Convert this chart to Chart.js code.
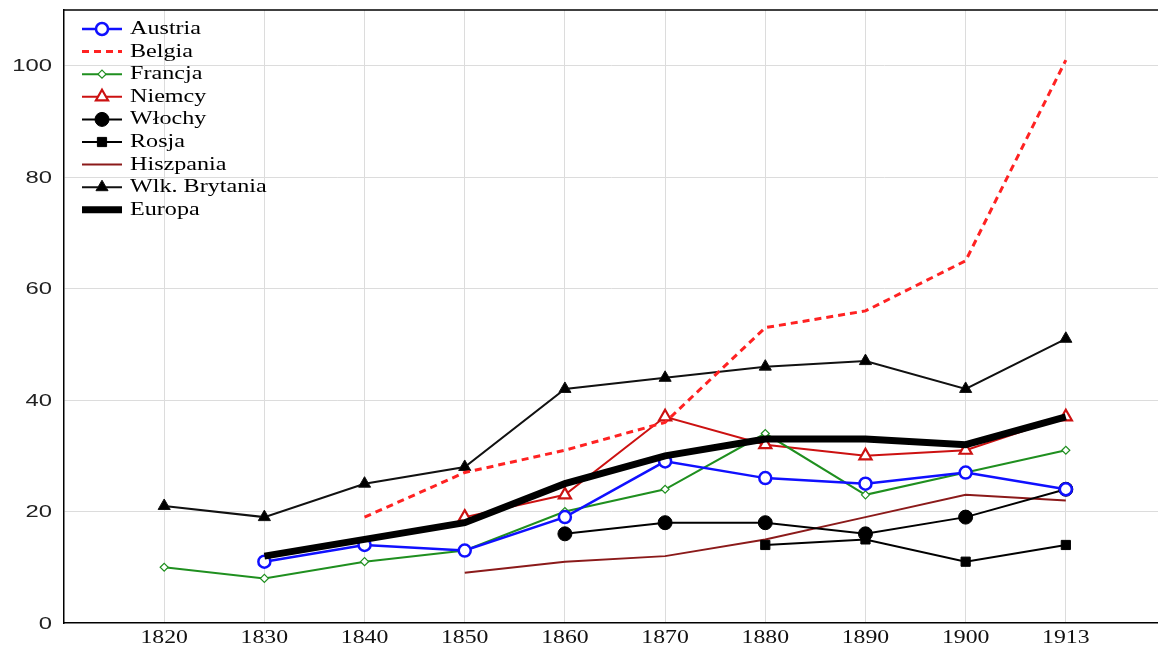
<!DOCTYPE html>
<html>
<head>
<meta charset="utf-8">
<script src="https://cdn.jsdelivr.net/npm/chart.js@4.4.1/dist/chart.umd.min.js"></script>
<style>
  html, body { margin: 0; padding: 0; background: #fff; overflow: hidden; }
  #wrap { width: 1158px; height: 652px; }
</style>
</head>
<body>
<div id="wrap"><canvas id="chart"></canvas></div>
<script>
// lata (kategorie osi X)
const years = ['1820', '1830', '1840', '1850', '1860', '1870', '1880', '1890', '1900', '1913'];
const yTicks = [0, 20, 40, 60, 80, 100];

// wartosci serii (null = brak danych)
const austria   = [null, 11, 14, 13, 19, 29, 26, 25, 27, 24];
const belgia    = [null, null, 19, 27, 31, 36, 53, 56, 65, 101];
const francja   = [10, 8, 11, 13, 20, 24, 34, 23, 27, 31];
const niemcy    = [null, null, null, 19, 23, 37, 32, 30, 31, 37];
const wlochy    = [null, null, null, null, 16, 18, 18, 16, 19, 24];
const rosja     = [null, null, null, null, null, null, 14, 15, 11, 14];
const hiszpania = [null, null, null, 9, 11, 12, 15, 19, 23, 22];
const brytania  = [21, 19, 25, 28, 42, 44, 46, 47, 42, 51];
const europa    = [null, 12, 15, 18, 25, 30, 33, 33, 32, 37];

const toPoints = arr => arr.map((v, i) => ({ x: i, y: v }));

const series = [
  { label: 'Austria', data: austria, color: '#1010ff', width: 2.5, style: 'circle', radius: 6, fill: '#fff', bw: 2.5 },
  { label: 'Belgia', data: belgia, color: '#ff2222', width: 3, dash: [7, 5], style: false },
  { label: 'Francja', data: francja, color: '#1f8f1f', width: 2, style: 'rectRot', radius: 4, fill: '#fff', bw: 1.2 },
  { label: 'Niemcy', data: niemcy, color: '#cc1111', width: 2, style: 'triangle', radius: 7, fill: '#fff', bw: 2.2 },
  { label: 'Włochy', data: wlochy, color: '#000', width: 2, style: 'circle', radius: 7, fill: '#000', bw: 1 },
  { label: 'Rosja', data: rosja, color: '#000', width: 2, style: 'rect', radius: 6.5, fill: '#000', bw: 1 },
  { label: 'Hiszpania', data: hiszpania, color: '#8b1a1a', width: 2, style: false },
  { label: 'Wlk. Brytania', data: brytania, color: '#111', width: 2, style: 'triangle', radius: 7, fill: '#000', bw: 1 },
  { label: 'Europa', data: europa, color: '#000', width: 7, style: false, order: 0 }
];

const datasets = series.map(s => ({
  label: s.label,
  data: toPoints(s.data),
  borderColor: s.color,
  borderWidth: s.width,
  borderDash: s.dash || [],
  backgroundColor: s.fill || s.color,
  pointStyle: s.style,
  pointRadius: s.style ? s.radius : 0,
  pointBorderWidth: s.bw || 1,
  pointBorderColor: s.color,
  pointBackgroundColor: s.fill || s.color,
  tension: 0,
  order: s.order === undefined ? 1 : s.order
}));

const SERIF = '"Liberation Serif", "Times New Roman", serif';
const SANS = '"Liberation Sans", Arial, sans-serif';

// tekst rozciagniety w poziomie (oryginal jest poszerzony)
function wideText(ctx, text, x, y, sx, align) {
  ctx.save();
  ctx.scale(sx, 1);
  ctx.textAlign = align;
  ctx.fillText(text, x / sx, y);
  ctx.restore();
}

// etykiety osi, gorna ramka i legenda w obszarze wykresu
const decorPlugin = {
  id: 'decor',
  afterDraw(chart) {
    const ctx = chart.ctx;
    const area = chart.chartArea;
    const xs = chart.scales.x, ys = chart.scales.y;
    ctx.save();
    ctx.strokeStyle = '#000';
    ctx.lineWidth = 1.5;
    ctx.beginPath();
    ctx.moveTo(area.left, area.top);
    ctx.lineTo(area.right, area.top);
    ctx.stroke();

    ctx.textBaseline = 'middle';
    ctx.fillStyle = '#222';
    ctx.font = '17px ' + SANS;
    yTicks.forEach(v => wideText(ctx, String(v), area.left - 12, ys.getPixelForValue(v) + 1, 1.4, 'right'));

    ctx.fillStyle = '#111';
    ctx.font = '19px ' + SERIF;
    years.forEach((y, i) => wideText(ctx, y, xs.getPixelForValue(i), area.bottom + 15, 1.25, 'center'));

    const x0 = area.left + 18, x1 = area.left + 58, tx = area.left + 66;
    let y = area.top + 19;
    ctx.font = '19px ' + SERIF;
    series.forEach(s => {
      ctx.strokeStyle = s.color;
      ctx.lineWidth = s.width;
      ctx.setLineDash(s.dash || []);
      ctx.beginPath();
      ctx.moveTo(x0, y);
      ctx.lineTo(x1, y);
      ctx.stroke();
      ctx.setLineDash([]);
      if (s.style) {
        ctx.fillStyle = s.fill;
        ctx.strokeStyle = s.color;
        ctx.lineWidth = s.bw;
        Chart.helpers.drawPoint(ctx, { pointStyle: s.style, radius: s.radius, borderWidth: s.bw, rotation: 0 }, (x0 + x1) / 2, y);
      }
      ctx.fillStyle = '#000';
      wideText(ctx, s.label, tx, y, 1.27, 'left');
      y += 22.6;
    });
    ctx.restore();
  }
};

new Chart(document.getElementById('chart').getContext('2d'), {
  type: 'line',
  data: { datasets },
  plugins: [decorPlugin],
  options: {
    responsive: true,
    maintainAspectRatio: false,
    animation: false,
    layout: { autoPadding: false, padding: { top: 10, right: 0, left: 0, bottom: 0 } },
    scales: {
      x: {
        type: 'linear',
        min: -1,
        max: 9.92,
        afterFit: (scale) => { scale.height = 29; scale.paddingLeft = 0; scale.paddingRight = 0; },
        grid: {
          color: (c) => Number.isInteger(c.tick.value) && c.tick.value >= 0 ? '#dcdcdc' : 'rgba(0,0,0,0)',
          lineWidth: 1,
          drawTicks: false
        },
        border: { color: '#000', width: 1.5 },
        ticks: { stepSize: 1, autoSkip: false, display: false }
      },
      y: {
        min: 0,
        max: 110,
        afterFit: (scale) => { scale.width = 64; scale.paddingTop = 0; scale.paddingBottom = 0; },
        grid: {
          color: (c) => yTicks.includes(c.tick.value) && c.tick.value > 0 ? '#dcdcdc' : 'rgba(0,0,0,0)',
          lineWidth: 1,
          drawTicks: false
        },
        border: { color: '#000', width: 1.5 },
        ticks: { stepSize: 20, display: false }
      }
    },
    plugins: {
      legend: { display: false },
      tooltip: { enabled: false }
    }
  }
});
</script>
</body>
</html>
